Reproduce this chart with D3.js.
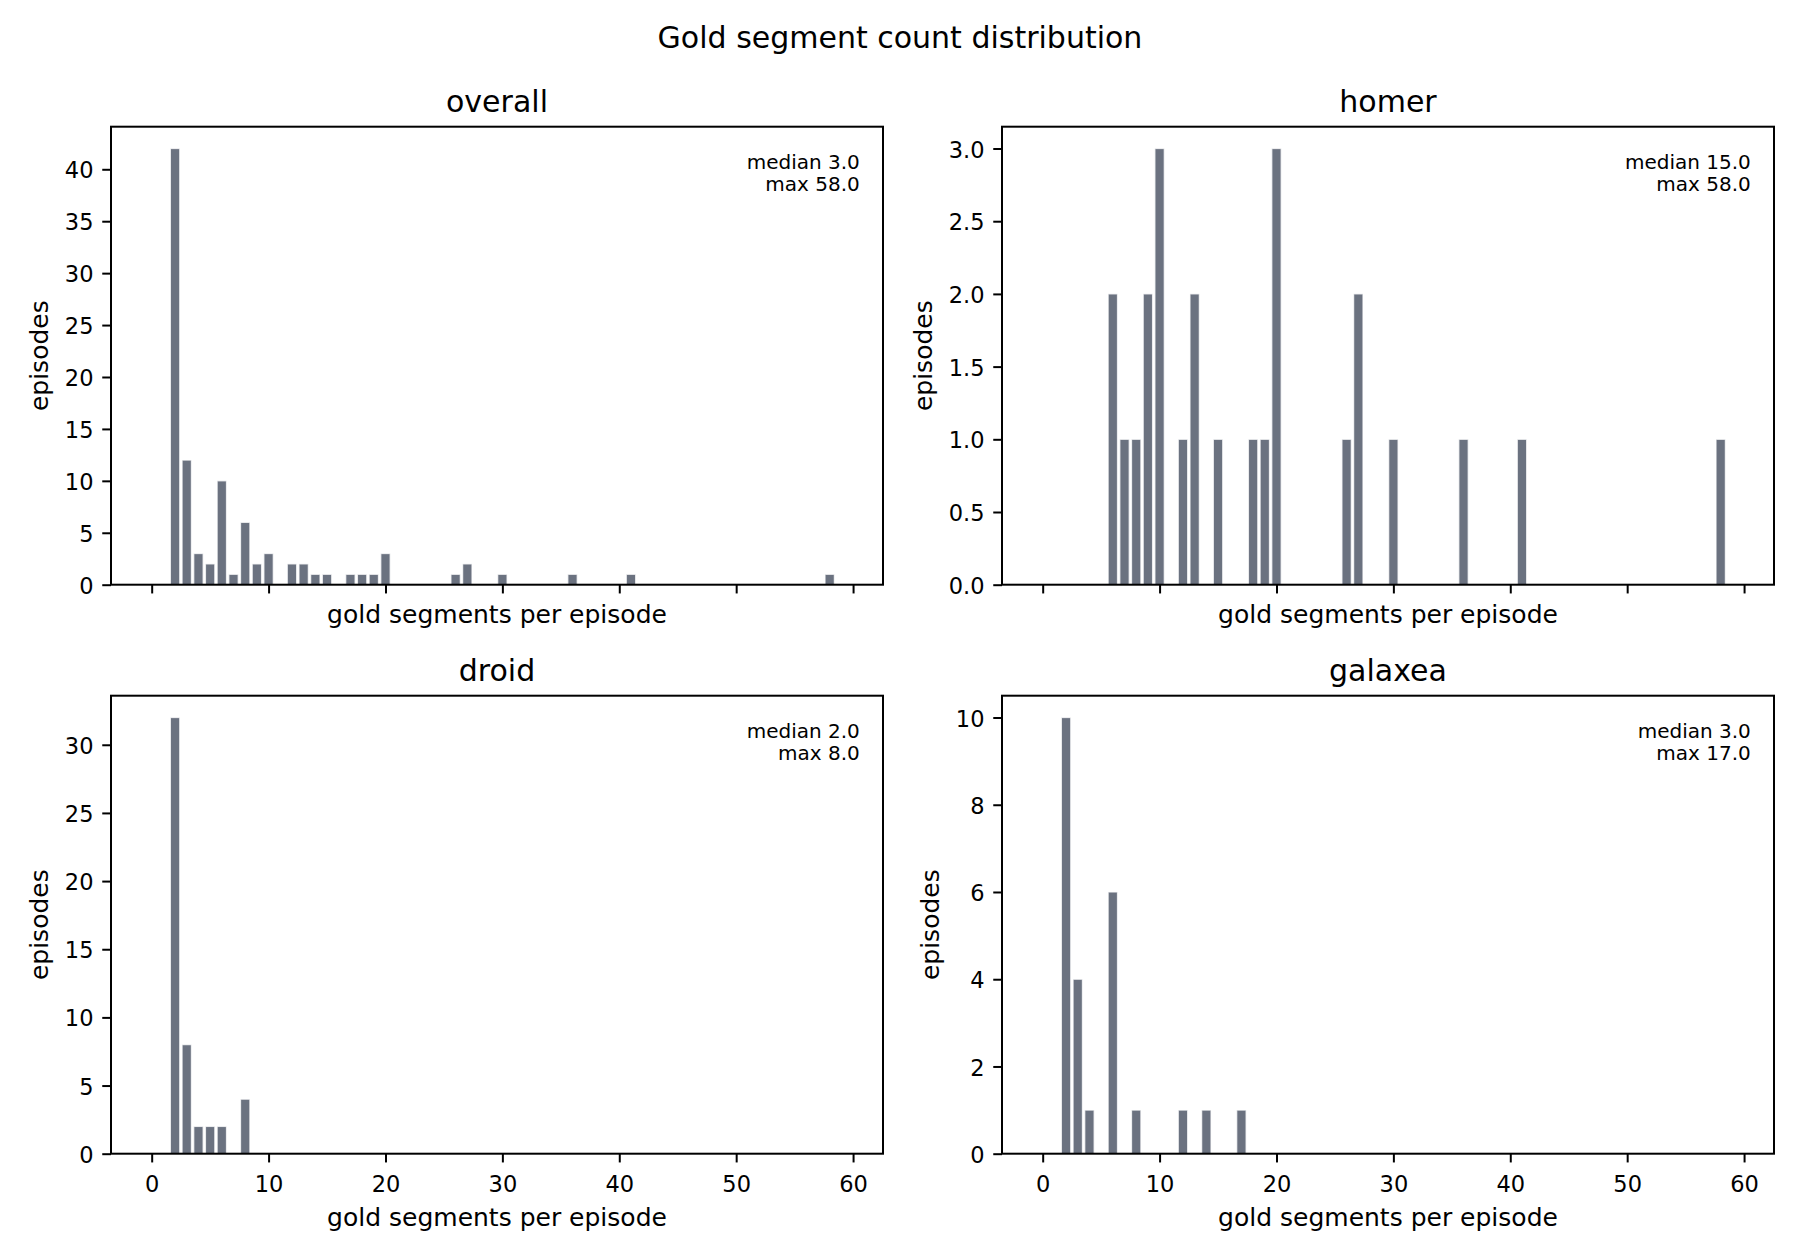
<!DOCTYPE html>
<html>
<head>
<meta charset="utf-8">
<script src="https://cdn.jsdelivr.net/npm/d3@7"></script>
<style>
  html, body { margin: 0; padding: 0; background: #ffffff; }
  svg { display: block; }
  text { font-family: "DejaVu Sans", sans-serif; fill: #000; }
</style>
</head>
<body>
<script>
// ---- data ----
const chartTitle = "Gold segment count distribution";
const xLabel = "gold segments per episode";
const yLabel = "episodes";
const xTicks = [0, 10, 20, 30, 40, 50, 60];

const overallX = [2, 3, 4, 5, 6, 7, 8, 9, 10, 12, 13, 14, 15, 17, 18, 19, 20, 26, 27, 30, 36, 41, 58];
const overallY = [42, 12, 3, 2, 10, 1, 6, 2, 3, 2, 2, 1, 1, 1, 1, 1, 3, 1, 2, 1, 1, 1, 1];
const overallTicks = [0, 5, 10, 15, 20, 25, 30, 35, 40];

const homerX = [6, 7, 8, 9, 10, 12, 13, 15, 18, 19, 20, 26, 27, 30, 36, 41, 58];
const homerY = [2, 1, 1, 2, 3, 1, 2, 1, 1, 1, 3, 1, 2, 1, 1, 1, 1];
const homerTicks = [0, 0.5, 1.0, 1.5, 2.0, 2.5, 3.0];

const droidX = [2, 3, 4, 5, 6, 8];
const droidY = [32, 8, 2, 2, 2, 4];
const droidTicks = [0, 5, 10, 15, 20, 25, 30];

const galaxeaX = [2, 3, 4, 6, 8, 12, 14, 17];
const galaxeaY = [10, 4, 1, 6, 1, 1, 1, 1];
const galaxeaTicks = [0, 2, 4, 6, 8, 10];

const panelNames = ["overall", "homer", "droid", "galaxea"];
const statMedian = ["3.0", "15.0", "2.0", "3.0"];
const statMax = ["58.0", "58.0", "8.0", "17.0"];

// ---- layout ----
const W = 1800, H = 1260;
const svg = d3.select("body").append("svg").attr("width", W).attr("height", H);

const colLeft = [111, 1002];
const axW = 772;
const rowTop = [126.7, 695.7];
const axH = 458;
const barColor = "#6b7280";

svg.append("text")
  .attr("x", 900).attr("y", 48)
  .attr("text-anchor", "middle")
  .style("font-size", "30px")
  .text(chartTitle);

const panels = [
  { name: panelNames[0], xs: overallX, ys: overallY, ticks: overallTicks, fmt: d3.format("d"), col: 0, row: 0, med: statMedian[0], mx: statMax[0] },
  { name: panelNames[1], xs: homerX, ys: homerY, ticks: homerTicks, fmt: d3.format(".1f"), col: 1, row: 0, med: statMedian[1], mx: statMax[1] },
  { name: panelNames[2], xs: droidX, ys: droidY, ticks: droidTicks, fmt: d3.format("d"), col: 0, row: 1, med: statMedian[2], mx: statMax[2] },
  { name: panelNames[3], xs: galaxeaX, ys: galaxeaY, ticks: galaxeaTicks, fmt: d3.format("d"), col: 1, row: 1, med: statMedian[3], mx: statMax[3] }
];

const x = d3.scaleLinear().domain([-3.48, 62.56]).range([0, axW]);

panels.forEach(p => {
  const left = colLeft[p.col], top = rowTop[p.row];
  const g = svg.append("g").attr("transform", `translate(${left},${top})`);
  const ymax = d3.max(p.ys) * 1.05;
  const y = d3.scaleLinear().domain([0, ymax]).range([axH, 0]);

  const data = p.xs.map((v, i) => ({ x: v, y: p.ys[i] }));
  const bw = 0.8;
  g.selectAll("rect.bar").data(data).enter().append("rect")
    .attr("class", "bar")
    .attr("x", d => x(d.x - bw / 2))
    .attr("width", d => x(d.x + bw / 2) - x(d.x - bw / 2))
    .attr("y", d => y(d.y))
    .attr("height", d => y(0) - y(d.y))
    .attr("fill", barColor)
    .attr("stroke", "#ffffff")
    .attr("stroke-opacity", 0.75)
    .attr("stroke-width", 1.25);

  // y axis
  const yAxis = g.append("g")
    .call(d3.axisLeft(y).tickValues(p.ticks).tickFormat(p.fmt).tickSize(8.75).tickPadding(8.75));
  yAxis.select(".domain").remove();
  yAxis.selectAll(".tick line").attr("stroke", "#000").attr("stroke-width", 2);
  yAxis.selectAll(".tick text").attr("dy", "0.38em").style("font-size", "22.5px").style("font-family", "DejaVu Sans, sans-serif");

  // x axis
  const xAxis = g.append("g").attr("transform", `translate(0,${axH})`)
    .call(d3.axisBottom(x).tickValues(xTicks).tickFormat(d3.format("d")).tickSize(8.75).tickPadding(8.75));
  xAxis.select(".domain").remove();
  xAxis.selectAll(".tick line").attr("stroke", "#000").attr("stroke-width", 2);
  xAxis.selectAll(".tick text").style("font-size", "22.5px").style("font-family", "DejaVu Sans, sans-serif")
    .attr("y", 0).attr("dy", 0).attr("transform", "translate(0,38)");
  if (p.row === 0) xAxis.selectAll(".tick text").remove();

  // frame
  g.append("rect").attr("x", 0).attr("y", 0).attr("width", axW).attr("height", axH)
    .attr("fill", "none").attr("stroke", "#000").attr("stroke-width", 2);

  // title
  g.append("text").attr("x", axW / 2).attr("y", -14.4)
    .attr("text-anchor", "middle").style("font-size", "30px").text(p.name);

  // x label
  g.append("text").attr("x", axW / 2).attr("y", axH + (p.row === 0 ? 38 : 72))
    .attr("text-anchor", "middle").style("font-size", "25px").text(xLabel);

  // y label, placed left of tick labels
  const bb = yAxis.node().getBBox();
  const lx = bb.x - 16.5;
  g.append("text")
    .attr("transform", `translate(${lx},${axH / 2}) rotate(-90)`)
    .attr("text-anchor", "middle").style("font-size", "25px").text(yLabel);

  // stats annotation
  const ax = axW * 0.97, ay = axH * 0.05;
  const ann = g.append("text").attr("text-anchor", "end").style("font-size", "20px");
  ann.append("tspan").attr("x", ax).attr("y", ay + 19.7).text("median " + p.med);
  ann.append("tspan").attr("x", ax).attr("y", ay + 41.4).text("max " + p.mx);
});
</script>
</body>
</html>
